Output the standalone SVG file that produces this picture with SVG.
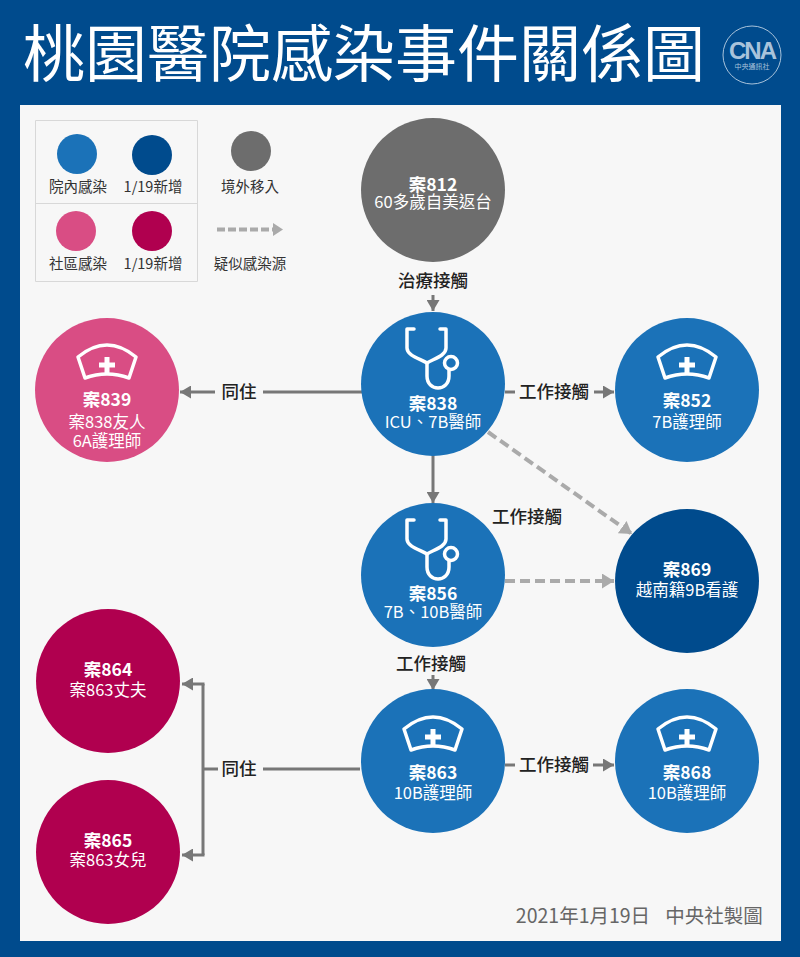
<svg xmlns="http://www.w3.org/2000/svg" width="800" height="957" viewBox="0 0 800 957">
<style>
text{font-family:"Noto Sans CJK TC","Noto Sans",sans-serif;text-anchor:middle}
.t{font-size:17.500px;font-weight:700;fill:#fff}
.s{font-size:16.500px;fill:#fff}
.l{font-size:17.500px;fill:#222;font-weight:500}
.g{font-size:14.500px;fill:#333}
.c{fill:none;stroke:#777;stroke-width:3}
.d{fill:none;stroke:#aaa;stroke-width:4;stroke-dasharray:10 5}
.i{fill:none;stroke:#fff;stroke-width:3.500;stroke-linejoin:round;stroke-linecap:round}
</style>
<defs>
<marker id="a" markerUnits="userSpaceOnUse" markerWidth="12" markerHeight="13" refX="11" refY="6.500" orient="auto"><path d="M0 0L11 6.500L0 13Z" fill="#777"/></marker>
<marker id="b" markerUnits="userSpaceOnUse" markerWidth="13" markerHeight="15" refX="12" refY="7.500" orient="auto"><path d="M0 0L12 7.500L0 15Z" fill="#aaa"/></marker>
<g id="nurse"><path class="i" d="M-29 -8Q0 -32 29 -8L22 13Q0 5 -22 13Z"/><path d="M-2.500 -8h5v5.500h5.500v5h-5.500v5.500h-5v-5.500h-5.500v-5h5.500z" fill="#fff"/></g>
<g id="steth"><path class="i" d="M-19 -55H-26V-36C-26 -28 -12 -25 -6 -21C0 -25 13 -28 13 -36V-55H7"/><path class="i" d="M-6 -20V-8C-6 8 16 8 16 -8V-14"/><circle class="i" cx="18" cy="-21" r="6.500"/></g>
</defs>
<rect width="800" height="957" fill="#004b8d"/>
<rect x="20" y="105" width="761" height="836" fill="#f7f7f7"/>
<text id="title" x="364" y="77" style="font-size:62px;fill:#fff;font-weight:400">桃園醫院感染事件關係圖</text>
<g id="logo"><circle cx="752" cy="55" r="29" fill="none" stroke="#a9c3db" stroke-width="1"/><text x="752" y="59" style="font-size:24px;font-weight:900;fill:#a9c3db;font-family:'Liberation Sans',sans-serif;letter-spacing:-2px">CNA</text><text x="752" y="69" style="font-size:7px;fill:#a9c3db">中央通訊社</text></g>

<g id="legend">
<path d="M35.500 120.500H197.500V281.500H35.500ZM35.500 203.500H197.500" fill="none" stroke="#d8d8d8"/>
<circle cx="77" cy="154" r="20" fill="#1b72b8"/><circle cx="152" cy="155" r="20" fill="#004b8d"/><circle cx="251" cy="151" r="20" fill="#6d6d6d"/>
<circle cx="76" cy="231" r="20" fill="#d94d84"/><circle cx="152" cy="231" r="20" fill="#b0004f"/>
<path d="M217 229.500H273" class="d" style="stroke-dasharray:8 3"/><path d="M273 223L283 229.500L273 236Z" fill="#aaa"/>
<text class="g" x="78" y="192">院內感染</text><text class="g" x="153" y="192">1/19新增</text><text class="g" x="250" y="192">境外移入</text>
<text class="g" x="78" y="269">社區感染</text><text class="g" x="153" y="269">1/19新增</text><text class="g" x="250" y="269">疑似感染源</text>
</g>

<g id="connectors">
<path class="c" d="M433 295V311" marker-end="url(#a)"/>
<path class="c" d="M362 392H263"/><path class="c" d="M215 392H180" marker-end="url(#a)"/>
<path class="c" d="M505 392H515"/><path class="c" d="M594 392H614" marker-end="url(#a)"/>
<path class="c" d="M433 455V503" marker-end="url(#a)"/>
<path class="d" d="M488 432L632 534" marker-end="url(#b)"/>
<path class="d" d="M505 581H614" marker-end="url(#b)"/>
<path class="c" d="M433 675V690" marker-end="url(#a)"/>
<path class="c" d="M360 769H263"/><path class="c" d="M218 769H203"/>
<path class="c" d="M203 684V855"/><path class="c" d="M204.500 684H182" marker-end="url(#a)"/><path class="c" d="M204.500 855H182" marker-end="url(#a)"/>
<path class="c" d="M505 765H515"/><path class="c" d="M593 765H614" marker-end="url(#a)"/>
</g>
<g id="edge-labels">
<text class="l" x="433" y="287">治療接觸</text>
<text class="l" x="239" y="398">同住</text>
<text class="l" x="554" y="398">工作接觸</text>
<text class="l" x="527" y="523">工作接觸</text>
<text class="l" x="431" y="670">工作接觸</text>
<text class="l" x="239" y="775">同住</text>
<text class="l" x="554" y="771">工作接觸</text>
</g>

<g id="n812"><circle cx="433" cy="190" r="72" fill="#6d6d6d"/><text class="t" x="433" y="191">案812</text><text class="s" x="433" y="208">60多歲自美返台</text></g>
<g id="n838"><circle cx="433" cy="384" r="72" fill="#1b72b8"/><use href="#steth" x="433" y="384"/><text class="t" x="433" y="410">案838</text><text class="s" x="433" y="428">ICU、7B醫師</text></g>
<g id="n839"><circle cx="107" cy="390" r="72" fill="#d94d84"/><use href="#nurse" x="107" y="365"/><text class="t" x="107" y="406">案839</text><text class="s" x="107" y="428">案838友人</text><text class="s" x="107" y="447">6A護理師</text></g>
<g id="n852"><circle cx="687" cy="390" r="72" fill="#1b72b8"/><use href="#nurse" x="687" y="365"/><text class="t" x="687" y="407">案852</text><text class="s" x="687" y="428">7B護理師</text></g>
<g id="n856"><circle cx="433" cy="575" r="72" fill="#1b72b8"/><use href="#steth" x="433" y="575"/><text class="t" x="433" y="600">案856</text><text class="s" x="433" y="618">7B、10B醫師</text></g>
<g id="n869"><circle cx="687" cy="581" r="72" fill="#004b8d"/><text class="t" x="687" y="576">案869</text><text class="s" x="687" y="596">越南籍9B看護</text></g>
<g id="n864"><circle cx="108" cy="681" r="72" fill="#b0004f"/><text class="t" x="108" y="676">案864</text><text class="s" x="108" y="696">案863丈夫</text></g>
<g id="n865"><circle cx="108" cy="852" r="72" fill="#b0004f"/><text class="t" x="108" y="847">案865</text><text class="s" x="108" y="866">案863女兒</text></g>
<g id="n863"><circle cx="433" cy="761" r="72" fill="#1b72b8"/><use href="#nurse" x="433" y="737"/><text class="t" x="433" y="779">案863</text><text class="s" x="433" y="799">10B護理師</text></g>
<g id="n868"><circle cx="687" cy="761" r="72" fill="#1b72b8"/><use href="#nurse" x="687" y="737"/><text class="t" x="687" y="779">案868</text><text class="s" x="687" y="799">10B護理師</text></g>
<text id="credit" y="923" style="font-size:19.500px;fill:#666"><tspan x="583">2021年1月19日</tspan><tspan x="714">中央社製圖</tspan></text>
</svg>
